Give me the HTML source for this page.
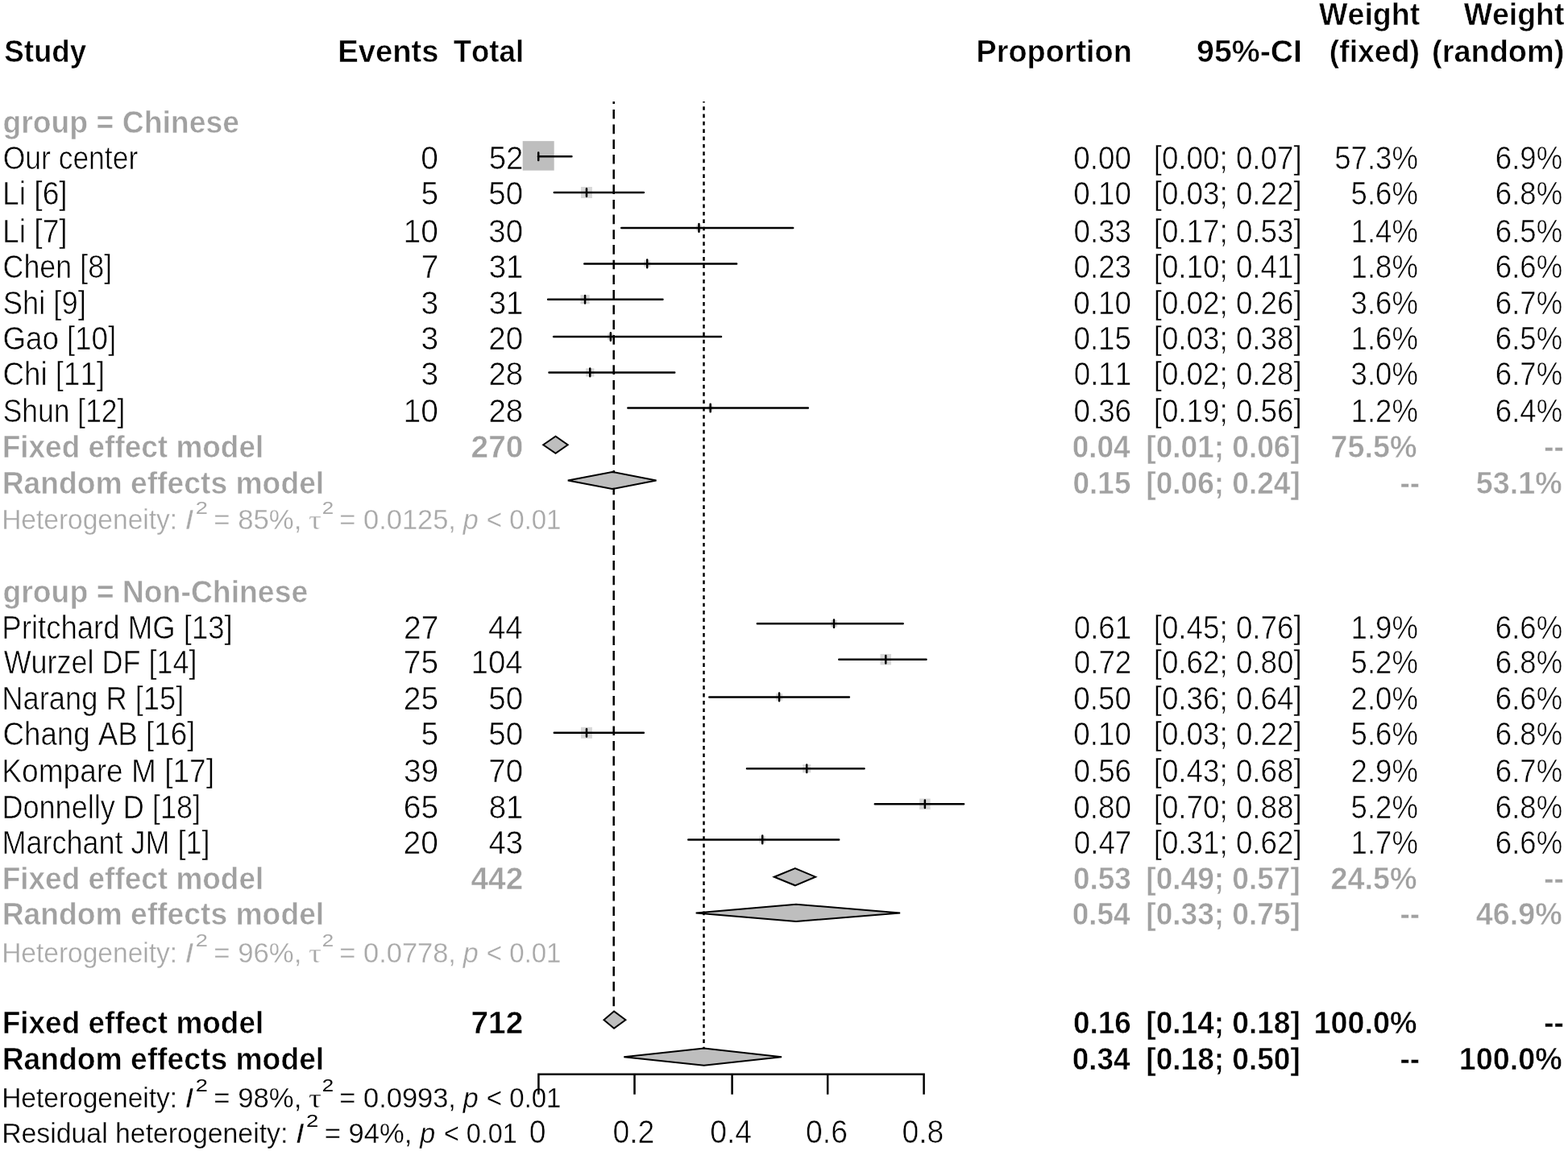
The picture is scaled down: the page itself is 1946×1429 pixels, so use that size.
<!DOCTYPE html>
<html lang="en"><head><meta charset="utf-8"><title>Forest plot</title>
<style>
html,body{margin:0;padding:0;background:#fff}
svg{display:block}
text{font-family:"Liberation Sans",sans-serif;font-size:37.33px;fill:#000;white-space:pre;font-kerning:none;stroke:#fff;stroke-width:0.55px}
.b{font-weight:bold;stroke-width:0.5px}
.g{fill:#a1a1a1}
.h.g,.sup.g,.tau.g{fill:#a9a9a9}
.h{font-size:34.2px}
.i{font-style:italic}
.h{stroke-width:0.3px}
.sup{font-size:21px;stroke-width:0}
.tau{font-family:"Liberation Serif","DejaVu Serif",serif;font-style:normal;font-size:33px;stroke-width:0.3px}
.ln{stroke:#000;stroke-width:2.5;stroke-linecap:round;fill:none}
.rf{stroke:#000;stroke-width:2.5;fill:none}
.dm{stroke:#000;stroke-width:2;stroke-linejoin:miter}
.ax{stroke:#000;stroke-width:2.5;stroke-linecap:square;fill:none}
</style></head>
<body>
<svg width="1946" height="1429" viewBox="0 0 1946 1429">
<rect width="1946" height="1429" fill="#fff"/>
<g id="plot">
<rect x="648.70" y="175.15" width="39.00" height="36.50" fill="#bebebe"/>
<rect x="720.97" y="232.00" width="14.01" height="14.01" fill="#bebebe" opacity="0.6"/>
<rect x="863.95" y="279.40" width="7.00" height="7.00" fill="#bebebe" opacity="0.6"/>
<rect x="799.20" y="323.43" width="7.94" height="7.94" fill="#bebebe" opacity="0.6"/>
<rect x="720.43" y="366.08" width="11.23" height="11.23" fill="#bebebe" opacity="0.6"/>
<rect x="754.12" y="414.26" width="7.49" height="7.49" fill="#bebebe" opacity="0.6"/>
<rect x="727.12" y="457.27" width="10.25" height="10.25" fill="#bebebe" opacity="0.6"/>
<rect x="878.44" y="503.26" width="6.49" height="6.49" fill="#bebebe" opacity="0.6"/>
<rect x="1030.92" y="770.22" width="8.16" height="8.16" fill="#bebebe" opacity="0.6"/>
<rect x="1092.52" y="811.95" width="13.50" height="13.50" fill="#bebebe" opacity="0.6"/>
<rect x="962.89" y="861.21" width="8.37" height="8.37" fill="#bebebe" opacity="0.6"/>
<rect x="720.97" y="902.80" width="14.01" height="14.01" fill="#bebebe" opacity="0.6"/>
<rect x="996.19" y="949.16" width="10.08" height="10.08" fill="#bebebe" opacity="0.6"/>
<rect x="1141.13" y="991.55" width="13.50" height="13.50" fill="#bebebe" opacity="0.6"/>
<rect x="942.36" y="1038.54" width="7.72" height="7.72" fill="#bebebe" opacity="0.6"/>
<path d="M667.90 194.30H709.44M668.20 189.50V199.10" class="ln"/>
<path d="M687.79 239.00H798.89M727.98 234.20V243.80" class="ln"/>
<path d="M771.24 282.90H984.18M867.45 278.10V287.70" class="ln"/>
<path d="M725.25 327.40H914.15M803.18 322.60V332.20" class="ln"/>
<path d="M680.11 371.70H822.44M726.05 366.90V376.50" class="ln"/>
<path d="M687.07 418.00H895.00M757.86 413.20V422.80" class="ln"/>
<path d="M681.45 462.40H837.22M732.24 457.60V467.20" class="ln"/>
<path d="M779.32 506.50H1002.85M881.68 501.70V511.30" class="ln"/>
<path d="M939.85 774.30H1120.66M1035.00 769.50V779.10" class="ln"/>
<path d="M1041.29 818.70H1149.48M1099.27 813.90V823.50" class="ln"/>
<path d="M880.26 865.40H1053.89M967.08 860.60V870.20" class="ln"/>
<path d="M687.79 909.80H798.89M727.98 905.00V914.60" class="ln"/>
<path d="M926.97 954.20H1072.51M1001.23 949.40V959.00" class="ln"/>
<path d="M1085.81 998.30H1196.12M1147.88 993.50V1003.10" class="ln"/>
<path d="M854.26 1042.40H1041.17M946.22 1037.60V1047.20" class="ln"/>
<path d="M761.7 1267.8V126" class="rf" stroke-dasharray="11.67 7"/>
<path d="M873.5 1313.7V126" class="rf" stroke-dasharray="4.67 4.67"/>
<path d="M674.18 552.30L689.54 541.70L704.66 552.30L689.54 562.90Z" fill="#bebebe" class="dm"/>
<path d="M704.78 596.50L759.66 585.90L814.53 596.50L759.66 607.10Z" fill="#bebebe" class="dm"/>
<path d="M960.80 1088.70L986.80 1078.10L1012.09 1088.70L986.80 1099.30Z" fill="#bebebe" class="dm"/>
<path d="M863.66 1133.40L988.00 1122.80L1117.11 1133.40L988.00 1144.00Z" fill="#bebebe" class="dm"/>
<path d="M749.49 1266.20L762.05 1255.60L776.39 1266.20L762.05 1276.80Z" fill="#bebebe" class="dm"/>
<path d="M774.30 1312.20L873.71 1301.60L970.06 1312.20L873.71 1322.80Z" fill="#bebebe" class="dm"/>
</g>
<g id="labels">
<text class="b" transform="translate(5.22,77.30) scale(0.9836,1.05)">Study</text>
<text class="b" transform="translate(419.22,77.30) scale(1.0241,1.05)">Events</text>
<text class="b" transform="translate(562.67,77.30) scale(0.9806,1.05)">Total</text>
<text class="b" transform="translate(1211.45,77.30) scale(1.0144,1.05)">Proportion</text>
<text class="b" transform="translate(1485.12,77.30) scale(1.0518,1.05)">95%-CI</text>
<text class="b" transform="translate(1637.04,30.70) scale(1.0067,1.05)">Weight</text>
<text class="b" transform="translate(1649.72,77.30) scale(1.0025,1.05)">(fixed)</text>
<text class="b" transform="translate(1816.64,30.70) scale(1.0035,1.05)">Weight</text>
<text class="b" transform="translate(1777.09,77.30) scale(1.0152,1.05)">(random)</text>
<text class="b g" transform="translate(3.45,165.10) scale(1.0002,1.05)">group = Chinese</text>
<text class="b g" transform="translate(3.45,747.60) scale(1.0009,1.05)">group = Non-Chinese</text>
<text class="r" transform="translate(3.67,209.80) scale(0.9502,1.08)">Our center</text>
<text class="r" transform="translate(522.28,209.80) scale(1.0450,1.08)">0</text>
<text class="r" transform="translate(606.72,209.80) scale(1.0300,1.08)">52</text>
<text class="r" transform="translate(1332.32,209.80) scale(0.9850,1.08)">0.00</text>
<text class="r" transform="translate(1431.68,209.80) scale(0.9850,1.08)">[0.00; 0.07]</text>
<text class="r" transform="translate(1656.22,209.80) scale(0.9800,1.08)">57.3%</text>
<text class="r" transform="translate(1855.87,209.80) scale(0.9800,1.08)">6.9%</text>
<text class="r" transform="translate(3.00,254.30) scale(0.9972,1.08)">Li [6]</text>
<text class="r" transform="translate(522.39,254.30) scale(1.0450,1.08)">5</text>
<text class="r" transform="translate(606.28,254.30) scale(1.0300,1.08)">50</text>
<text class="r" transform="translate(1332.32,254.30) scale(0.9850,1.08)">0.10</text>
<text class="r" transform="translate(1431.68,254.30) scale(0.9850,1.08)">[0.03; 0.22]</text>
<text class="r" transform="translate(1676.57,254.30) scale(0.9800,1.08)">5.6%</text>
<text class="r" transform="translate(1855.87,254.30) scale(0.9800,1.08)">6.8%</text>
<text class="r" transform="translate(3.00,301.20) scale(0.9972,1.08)">Li [7]</text>
<text class="r" transform="translate(500.58,301.20) scale(1.0450,1.08)">10</text>
<text class="r" transform="translate(606.28,301.20) scale(1.0300,1.08)">30</text>
<text class="r" transform="translate(1332.50,301.20) scale(0.9850,1.08)">0.33</text>
<text class="r" transform="translate(1431.68,301.20) scale(0.9850,1.08)">[0.17; 0.53]</text>
<text class="r" transform="translate(1676.57,301.20) scale(0.9800,1.08)">1.4%</text>
<text class="r" transform="translate(1855.87,301.20) scale(0.9800,1.08)">6.5%</text>
<text class="r" transform="translate(3.53,345.40) scale(0.9607,1.08)">Chen [8]</text>
<text class="r" transform="translate(522.72,345.40) scale(1.0450,1.08)">7</text>
<text class="r" transform="translate(606.66,345.40) scale(1.0300,1.08)">31</text>
<text class="r" transform="translate(1332.50,345.40) scale(0.9850,1.08)">0.23</text>
<text class="r" transform="translate(1431.68,345.40) scale(0.9850,1.08)">[0.10; 0.41]</text>
<text class="r" transform="translate(1676.57,345.40) scale(0.9800,1.08)">1.8%</text>
<text class="r" transform="translate(1855.87,345.40) scale(0.9800,1.08)">6.6%</text>
<text class="r" transform="translate(3.70,389.60) scale(0.9737,1.08)">Shi [9]</text>
<text class="r" transform="translate(522.47,389.60) scale(1.0450,1.08)">3</text>
<text class="r" transform="translate(606.66,389.60) scale(1.0300,1.08)">31</text>
<text class="r" transform="translate(1332.32,389.60) scale(0.9850,1.08)">0.10</text>
<text class="r" transform="translate(1431.68,389.60) scale(0.9850,1.08)">[0.02; 0.26]</text>
<text class="r" transform="translate(1676.57,389.60) scale(0.9800,1.08)">3.6%</text>
<text class="r" transform="translate(1855.87,389.60) scale(0.9800,1.08)">6.7%</text>
<text class="r" transform="translate(3.51,433.50) scale(0.9823,1.08)">Gao [10]</text>
<text class="r" transform="translate(522.47,433.50) scale(1.0450,1.08)">3</text>
<text class="r" transform="translate(606.28,433.50) scale(1.0300,1.08)">20</text>
<text class="r" transform="translate(1332.43,433.50) scale(0.9850,1.08)">0.15</text>
<text class="r" transform="translate(1431.68,433.50) scale(0.9850,1.08)">[0.03; 0.38]</text>
<text class="r" transform="translate(1676.57,433.50) scale(0.9800,1.08)">1.6%</text>
<text class="r" transform="translate(1855.87,433.50) scale(0.9800,1.08)">6.5%</text>
<text class="r" transform="translate(3.48,478.00) scale(0.9839,1.08)">Chi [11]</text>
<text class="r" transform="translate(522.47,478.00) scale(1.0450,1.08)">3</text>
<text class="r" transform="translate(606.45,478.00) scale(1.0300,1.08)">28</text>
<text class="r" transform="translate(1332.68,478.00) scale(0.9850,1.08)">0.11</text>
<text class="r" transform="translate(1431.68,478.00) scale(0.9850,1.08)">[0.02; 0.28]</text>
<text class="r" transform="translate(1676.57,478.00) scale(0.9800,1.08)">3.0%</text>
<text class="r" transform="translate(1855.87,478.00) scale(0.9800,1.08)">6.7%</text>
<text class="r" transform="translate(3.74,524.20) scale(0.9494,1.08)">Shun [12]</text>
<text class="r" transform="translate(500.58,524.20) scale(1.0450,1.08)">10</text>
<text class="r" transform="translate(606.45,524.20) scale(1.0300,1.08)">28</text>
<text class="r" transform="translate(1332.50,524.20) scale(0.9850,1.08)">0.36</text>
<text class="r" transform="translate(1431.68,524.20) scale(0.9850,1.08)">[0.19; 0.56]</text>
<text class="r" transform="translate(1676.57,524.20) scale(0.9800,1.08)">1.2%</text>
<text class="r" transform="translate(1855.87,524.20) scale(0.9800,1.08)">6.4%</text>
<text class="r" transform="translate(2.35,792.50) scale(0.9791,1.08)">Pritchard MG [13]</text>
<text class="r" transform="translate(501.02,792.50) scale(1.0450,1.08)">27</text>
<text class="r" transform="translate(605.91,792.50) scale(1.0300,1.08)">44</text>
<text class="r" transform="translate(1332.68,792.50) scale(0.9850,1.08)">0.61</text>
<text class="r" transform="translate(1431.68,792.50) scale(0.9850,1.08)">[0.45; 0.76]</text>
<text class="r" transform="translate(1676.57,792.50) scale(0.9800,1.08)">1.9%</text>
<text class="r" transform="translate(1855.87,792.50) scale(0.9800,1.08)">6.6%</text>
<text class="r" transform="translate(4.69,835.90) scale(0.9631,1.08)">Wurzel DF [14]</text>
<text class="r" transform="translate(500.70,835.90) scale(1.0450,1.08)">75</text>
<text class="r" transform="translate(584.52,835.90) scale(1.0300,1.08)">104</text>
<text class="r" transform="translate(1332.73,835.90) scale(0.9850,1.08)">0.72</text>
<text class="r" transform="translate(1431.68,835.90) scale(0.9850,1.08)">[0.62; 0.80]</text>
<text class="r" transform="translate(1676.57,835.90) scale(0.9800,1.08)">5.2%</text>
<text class="r" transform="translate(1855.87,835.90) scale(0.9800,1.08)">6.8%</text>
<text class="r" transform="translate(2.37,880.80) scale(0.9723,1.08)">Narang R [15]</text>
<text class="r" transform="translate(500.70,880.80) scale(1.0450,1.08)">25</text>
<text class="r" transform="translate(606.28,880.80) scale(1.0300,1.08)">50</text>
<text class="r" transform="translate(1332.32,880.80) scale(0.9850,1.08)">0.50</text>
<text class="r" transform="translate(1431.68,880.80) scale(0.9850,1.08)">[0.36; 0.64]</text>
<text class="r" transform="translate(1676.57,880.80) scale(0.9800,1.08)">2.0%</text>
<text class="r" transform="translate(1855.87,880.80) scale(0.9800,1.08)">6.6%</text>
<text class="r" transform="translate(3.48,924.60) scale(0.9838,1.08)">Chang AB [16]</text>
<text class="r" transform="translate(522.39,924.60) scale(1.0450,1.08)">5</text>
<text class="r" transform="translate(606.28,924.60) scale(1.0300,1.08)">50</text>
<text class="r" transform="translate(1332.32,924.60) scale(0.9850,1.08)">0.10</text>
<text class="r" transform="translate(1431.68,924.60) scale(0.9850,1.08)">[0.03; 0.22]</text>
<text class="r" transform="translate(1676.57,924.60) scale(0.9800,1.08)">5.6%</text>
<text class="r" transform="translate(1855.87,924.60) scale(0.9800,1.08)">6.8%</text>
<text class="r" transform="translate(2.31,971.40) scale(0.9933,1.08)">Kompare M [17]</text>
<text class="r" transform="translate(500.91,971.40) scale(1.0450,1.08)">39</text>
<text class="r" transform="translate(606.28,971.40) scale(1.0300,1.08)">70</text>
<text class="r" transform="translate(1332.50,971.40) scale(0.9850,1.08)">0.56</text>
<text class="r" transform="translate(1431.68,971.40) scale(0.9850,1.08)">[0.43; 0.68]</text>
<text class="r" transform="translate(1676.57,971.40) scale(0.9800,1.08)">2.9%</text>
<text class="r" transform="translate(1855.87,971.40) scale(0.9800,1.08)">6.7%</text>
<text class="r" transform="translate(2.39,1015.70) scale(0.9671,1.08)">Donnelly D [18]</text>
<text class="r" transform="translate(500.70,1015.70) scale(1.0450,1.08)">65</text>
<text class="r" transform="translate(606.66,1015.70) scale(1.0300,1.08)">81</text>
<text class="r" transform="translate(1332.32,1015.70) scale(0.9850,1.08)">0.80</text>
<text class="r" transform="translate(1431.68,1015.70) scale(0.9850,1.08)">[0.70; 0.88]</text>
<text class="r" transform="translate(1676.57,1015.70) scale(0.9800,1.08)">5.2%</text>
<text class="r" transform="translate(1855.87,1015.70) scale(0.9800,1.08)">6.8%</text>
<text class="r" transform="translate(2.40,1060.30) scale(0.9649,1.08)">Marchant JM [1]</text>
<text class="r" transform="translate(500.58,1060.30) scale(1.0450,1.08)">20</text>
<text class="r" transform="translate(606.47,1060.30) scale(1.0300,1.08)">43</text>
<text class="r" transform="translate(1332.73,1060.30) scale(0.9850,1.08)">0.47</text>
<text class="r" transform="translate(1431.68,1060.30) scale(0.9850,1.08)">[0.31; 0.62]</text>
<text class="r" transform="translate(1676.57,1060.30) scale(0.9800,1.08)">1.7%</text>
<text class="r" transform="translate(1855.87,1060.30) scale(0.9800,1.08)">6.6%</text>
<text class="b g" transform="translate(2.71,568.40) scale(0.9905,1.05)">Fixed effect model</text>
<text class="b g" transform="translate(584.54,568.40) scale(1.0400,1.05)">270</text>
<text class="b g" transform="translate(1330.76,568.40) scale(0.9890,1.05)">0.04</text>
<text class="b g" transform="translate(1422.37,568.40) scale(0.9920,1.05)">[0.01; 0.06]</text>
<text class="b g" transform="translate(1651.50,568.40) scale(1.0110,1.05)">75.5%</text>
<text class="b g" transform="translate(1916.30,568.40) scale(0.9850,1.05)">--</text>
<text class="b g" transform="translate(2.69,612.90) scale(0.9981,1.05)">Random effects model</text>
<text class="b g" transform="translate(1331.59,612.90) scale(0.9890,1.05)">0.15</text>
<text class="b g" transform="translate(1422.37,612.90) scale(0.9920,1.05)">[0.06; 0.24]</text>
<text class="b g" transform="translate(1737.60,612.90) scale(0.9850,1.05)">--</text>
<text class="b g" transform="translate(1831.70,612.90) scale(1.0110,1.05)">53.1%</text>
<text class="b g" transform="translate(2.71,1103.90) scale(0.9905,1.05)">Fixed effect model</text>
<text class="b g" transform="translate(584.50,1103.90) scale(1.0400,1.05)">442</text>
<text class="b g" transform="translate(1331.90,1103.90) scale(0.9890,1.05)">0.53</text>
<text class="b g" transform="translate(1422.37,1103.90) scale(0.9920,1.05)">[0.49; 0.57]</text>
<text class="b g" transform="translate(1651.50,1103.90) scale(1.0110,1.05)">24.5%</text>
<text class="b g" transform="translate(1916.30,1103.90) scale(0.9850,1.05)">--</text>
<text class="b g" transform="translate(2.69,1148.00) scale(0.9981,1.05)">Random effects model</text>
<text class="b g" transform="translate(1330.76,1148.00) scale(0.9890,1.05)">0.54</text>
<text class="b g" transform="translate(1422.37,1148.00) scale(0.9920,1.05)">[0.33; 0.75]</text>
<text class="b g" transform="translate(1737.60,1148.00) scale(0.9850,1.05)">--</text>
<text class="b g" transform="translate(1831.70,1148.00) scale(1.0110,1.05)">46.9%</text>
<text class="b" transform="translate(2.71,1282.80) scale(0.9905,1.05)">Fixed effect model</text>
<text class="b" transform="translate(584.50,1282.80) scale(1.0400,1.05)">712</text>
<text class="b" transform="translate(1331.90,1282.80) scale(0.9890,1.05)">0.16</text>
<text class="b" transform="translate(1422.37,1282.80) scale(0.9920,1.05)">[0.14; 0.18]</text>
<text class="b" transform="translate(1630.51,1282.80) scale(1.0110,1.05)">100.0%</text>
<text class="b" transform="translate(1916.30,1282.80) scale(0.9850,1.05)">--</text>
<text class="b" transform="translate(2.69,1327.80) scale(0.9981,1.05)">Random effects model</text>
<text class="b" transform="translate(1330.76,1327.80) scale(0.9890,1.05)">0.34</text>
<text class="b" transform="translate(1422.37,1327.80) scale(0.9920,1.05)">[0.18; 0.50]</text>
<text class="b" transform="translate(1737.60,1327.80) scale(0.9850,1.05)">--</text>
<text class="b" transform="translate(1810.71,1327.80) scale(1.0110,1.05)">100.0%</text>
<text class="h g" transform="translate(2.15,657.00) scale(0.9801,1.03)">Heterogeneity:</text>
<text class="h i g" transform="translate(229.57,657.00) scale(1.1333,1.03)">I</text>
<text class="sup g" transform="translate(242.73,637.50) scale(1.2961,1.06)">2</text>
<text class="h g" transform="translate(265.30,657.00) scale(1.0157,1.03)">= 85%,</text>
<text class="tau g" transform="translate(382.90,657.00) scale(1.2000,1.0)">τ</text>
<text class="sup g" transform="translate(399.80,637.50) scale(1.2334,1.06)">2</text>
<text class="h g" transform="translate(421.32,657.00) scale(1.0077,1.03)">= 0.0125,</text>
<text class="h i g" transform="translate(574.75,657.00) scale(0.9963,1.03)">p</text>
<text class="h g" transform="translate(603.87,657.00) scale(0.9646,1.03)">&lt; 0.01</text>
<text class="h g" transform="translate(2.15,1194.70) scale(0.9801,1.03)">Heterogeneity:</text>
<text class="h i g" transform="translate(229.57,1194.70) scale(1.1333,1.03)">I</text>
<text class="sup g" transform="translate(242.73,1175.20) scale(1.2961,1.06)">2</text>
<text class="h g" transform="translate(265.30,1194.70) scale(1.0157,1.03)">= 96%,</text>
<text class="tau g" transform="translate(382.90,1194.70) scale(1.2000,1.0)">τ</text>
<text class="sup g" transform="translate(399.80,1175.20) scale(1.2334,1.06)">2</text>
<text class="h g" transform="translate(421.32,1194.70) scale(1.0077,1.03)">= 0.0778,</text>
<text class="h i g" transform="translate(574.75,1194.70) scale(0.9963,1.03)">p</text>
<text class="h g" transform="translate(603.87,1194.70) scale(0.9646,1.03)">&lt; 0.01</text>
<text class="h" transform="translate(2.15,1374.50) scale(0.9801,1.03)">Heterogeneity:</text>
<text class="h i" transform="translate(229.57,1374.50) scale(1.1333,1.03)">I</text>
<text class="sup" transform="translate(242.73,1355.00) scale(1.2961,1.06)">2</text>
<text class="h" transform="translate(265.30,1374.50) scale(1.0157,1.03)">= 98%,</text>
<text class="tau" transform="translate(382.90,1374.50) scale(1.2000,1.0)">τ</text>
<text class="sup" transform="translate(399.80,1355.00) scale(1.2334,1.06)">2</text>
<text class="h" transform="translate(421.32,1374.50) scale(1.0077,1.03)">= 0.0993,</text>
<text class="h i" transform="translate(574.75,1374.50) scale(0.9963,1.03)">p</text>
<text class="h" transform="translate(603.87,1374.50) scale(0.9646,1.03)">&lt; 0.01</text>
<text class="h" transform="translate(2.13,1418.80) scale(0.9889,1.03)">Residual heterogeneity:</text>
<text class="h i" transform="translate(366.85,1418.80) scale(1.1461,1.03)">I</text>
<text class="sup" transform="translate(379.92,1399.30) scale(1.3066,1.06)">2</text>
<text class="h" transform="translate(402.81,1418.80) scale(1.0109,1.03)">= 94%,</text>
<text class="h i" transform="translate(521.15,1418.80) scale(0.9963,1.03)">p</text>
<text class="h" transform="translate(551.01,1418.80) scale(0.9430,1.03)">&lt; 0.01</text>
<text class="r" transform="translate(656.72,1418.90) scale(1.0000,1.08)">0</text>
<text class="r" transform="translate(760.46,1418.90) scale(1.0000,1.08)">0.2</text>
<text class="r" transform="translate(881.17,1418.90) scale(1.0000,1.08)">0.4</text>
<text class="r" transform="translate(1000.04,1418.90) scale(1.0000,1.08)">0.6</text>
<text class="r" transform="translate(1119.44,1418.90) scale(1.0000,1.08)">0.8</text>
</g>
<g id="axis"><path d="M668.40 1333.7H1146.60M668.40 1333.7V1357.50M787.50 1333.7V1357.50M908.60 1333.7V1357.50M1027.20 1333.7V1357.50M1146.60 1333.7V1357.50" class="ax"/></g>
</svg>
</body></html>
